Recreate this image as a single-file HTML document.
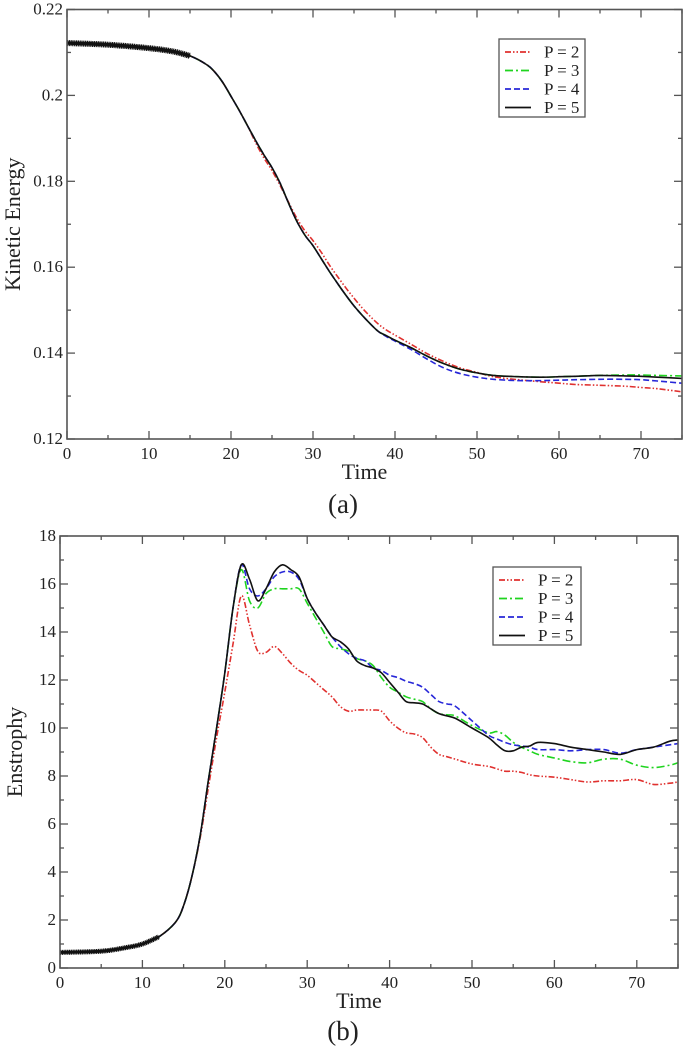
<!DOCTYPE html>
<html><head><meta charset="utf-8"><style>
html,body{margin:0;padding:0;background:#fff}
svg{display:block}
text{font-family:"Liberation Serif",serif;fill:#222}
</style></head><body>
<svg id="fig" width="685" height="1054" viewBox="0 0 685 1054" xmlns="http://www.w3.org/2000/svg"></svg>
<script>
// ---------- Panel (a): Kinetic energy ----------
const keTime = [0,5,10,13,15,17,18,19,20,21,22,23,24,25,26,27,28,29,30,31,32,33,34,35,36,37,38,39,40,42,44,46,48,50,52,55,58,60,62,65,68,70,72,75];
const keP5 = [.2122,.2118,.2110,.2102,.2092,.2072,.2055,.2030,.1998,.1965,.1930,.1895,.1862,.1832,.1795,.1750,.1708,.1675,.1650,.1620,.1590,.1562,.1535,.1510,.1488,.1468,.1450,.1440,.1430,.1412,.1392,.1375,.1362,.1354,.1348,.1345,.1344,.1345,.1346,.1348,.1347,.1346,.1344,.1341];
const keP2 = [.2122,.2118,.2110,.2102,.2092,.2072,.2055,.2030,.1998,.1965,.1930,.1890,.1855,.1825,.1790,.1752,.1715,.1685,.1662,.1635,.1605,.1578,.1552,.1528,.1505,.1485,.1467,.1453,.1442,.1420,.1398,.1380,.1365,.1355,.1345,.1338,.1333,.1330,.1327,.1325,.1323,.1320,.1317,.1310];
const keP3 = [.2122,.2118,.2110,.2102,.2092,.2072,.2055,.2030,.1998,.1965,.1930,.1895,.1862,.1832,.1795,.1750,.1708,.1675,.1650,.1620,.1590,.1562,.1535,.1510,.1488,.1468,.1450,.1440,.1430,.1412,.1392,.1375,.1362,.1354,.1348,.1345,.1344,.1345,.1346,.1348,.1349,.1349,.1348,.1347];
const keP4 = [.2122,.2118,.2110,.2102,.2092,.2072,.2055,.2030,.1998,.1965,.1930,.1895,.1862,.1832,.1795,.1750,.1708,.1675,.1650,.1620,.1590,.1562,.1535,.1510,.1488,.1468,.1450,.1438,.1428,.1408,.1385,.1365,.1352,.1344,.1339,.1336,.1336,.1337,.1338,.1339,.1339,.1338,.1335,.1330];
const keYTicks = ["0.12","0.14","0.16","0.18","0.2","0.22"];
const keYTickVals = [0.12,0.14,0.16,0.18,0.20,0.22];

// ---------- Panel (b): Enstrophy ----------
const enTime = [0,5,8,10,12,14,15,16,17,18,19,20,21,22,23,24,25,26,27,28,29,30,31,32,33,34,35,36,37,38,39,40,41,42,43,44,45,46,47,48,50,52,53,54,55,56,57,58,60,62,64,66,68,70,72,74,75];
const enP5 = [0.65,0.7,0.85,1.0,1.3,1.9,2.6,3.8,5.5,7.8,10,12.3,15,16.8,16.2,15.3,15.8,16.5,16.8,16.6,16.3,15.4,14.8,14.3,13.8,13.6,13.3,12.8,12.6,12.5,12.3,11.9,11.5,11.1,11.05,11.0,10.8,10.6,10.5,10.4,10.0,9.6,9.3,9.05,9.05,9.2,9.25,9.4,9.35,9.2,9.1,9.0,8.9,9.1,9.2,9.45,9.5];
const enP4 = [0.65,0.7,0.85,1.0,1.3,1.9,2.6,3.8,5.5,7.8,10,12.3,15,16.8,15.8,15.5,15.8,16.3,16.5,16.5,16.2,15.4,14.8,14.3,13.8,13.4,13.1,12.9,12.8,12.5,12.4,12.2,12.1,11.95,11.85,11.7,11.4,11.1,11.0,10.9,10.3,9.7,9.55,9.4,9.3,9.25,9.2,9.1,9.1,9.05,9.1,9.1,8.95,9.1,9.2,9.3,9.35];
const enP3 = [0.65,0.7,0.85,1.0,1.3,1.9,2.6,3.8,5.5,7.8,10,12.3,15,16.6,15.3,15.0,15.6,15.8,15.8,15.8,15.8,15.2,14.6,14.0,13.4,13.3,13.2,12.9,12.8,12.6,12.1,11.7,11.5,11.3,11.2,11.1,10.8,10.6,10.55,10.5,10.1,9.8,9.85,9.7,9.4,9.2,9.05,8.9,8.75,8.6,8.55,8.7,8.7,8.45,8.35,8.45,8.55];
const enP2 = [0.65,0.7,0.85,1.0,1.3,1.9,2.6,3.8,5.4,7.5,9.6,11.5,13.5,15.5,14.3,13.2,13.15,13.4,13.1,12.7,12.4,12.2,11.9,11.6,11.3,10.9,10.7,10.75,10.75,10.75,10.7,10.3,10.0,9.8,9.75,9.6,9.2,8.9,8.8,8.7,8.5,8.4,8.3,8.2,8.2,8.15,8.05,8.0,7.95,7.85,7.75,7.8,7.8,7.85,7.65,7.7,7.75];
const enYTicks = ["0","2","4","6","8","10","12","14","16","18"];
const enYTickVals = [0,2,4,6,8,10,12,14,16,18];

const xTicks = ["0","10","20","30","40","50","60","70"];
const xTickVals = [0,10,20,30,40,50,60,70];
const legendLabels = ["P = 2","P = 3","P = 4","P = 5"];

const NS = "http://www.w3.org/2000/svg";
const svg = document.getElementById('fig');
function mk(tag, attrs, parent){const e=document.createElementNS(NS,tag);for(const k in attrs)e.setAttribute(k,attrs[k]);(parent||svg).appendChild(e);return e;}

const styles = [
  {color:"#e0312f", dash:"6,2,1.5,2,1.5,2"},
  {color:"#1fd41f", dash:"8,3,2,3"},
  {color:"#2727d8", dash:"6,3"},
  {color:"#111111", dash:""}
];

function smoothPath(pts){
  let d = 'M'+pts[0][0].toFixed(1)+','+pts[0][1].toFixed(1);
  for(let i=0;i<pts.length-1;i++){
    const p0=pts[Math.max(0,i-1)],p1=pts[i],p2=pts[i+1],p3=pts[Math.min(pts.length-1,i+2)];
    const c1=[p1[0]+(p2[0]-p0[0])/6, p1[1]+(p2[1]-p0[1])/6];
    const c2=[p2[0]-(p3[0]-p1[0])/6, p2[1]-(p3[1]-p1[1])/6];
    d+='C'+c1[0].toFixed(1)+','+c1[1].toFixed(1)+' '+c2[0].toFixed(1)+','+c2[1].toFixed(1)+' '+p2[0].toFixed(1)+','+p2[1].toFixed(1);
  }
  return d;
}

function panel(cfg){
  const g = mk('g',{});
  
  
  const {L,R,T,B,xmin,xmax,ymin,ymax} = cfg;
  const sx = v => L + (v-xmin)/(xmax-xmin)*(R-L);
  const sy = v => B - (v-ymin)/(ymax-ymin)*(B-T);
  const sg = mk('g',{},g);
  
  
  cfg.series.forEach((s,i)=>{
    const pts = s.map((v,j)=>[sx(cfg.time[j]),sy(v)]);
    const p = mk('path',{d:smoothPath(pts),fill:'none',stroke:styles[i].color,'stroke-width':1.6,'stroke-dasharray':styles[i].dash,'stroke-linejoin':'round'},sg);
    
    
  });
  // early-time oscillation band (thick overlay of P=5 up to t=cutoff)
  const s5 = cfg.series[3];
  const early = [];
  s5.forEach((v,j)=>{ if(cfg.time[j]<=cfg.bandEnd) early.push([sx(cfg.time[j]),sy(v)]); });
  const band = mk('path',{d:smoothPath(early),fill:'none',stroke:'#111','stroke-width':cfg.bandW,'stroke-linecap':'butt','stroke-dasharray':'1.2,0.6'},sg);
  
  
  const band2 = mk('path',{d:smoothPath(early),fill:'none',stroke:'#111','stroke-width':cfg.bandW*0.6},sg);
  
  
  // frame
  const fr = mk('rect',{x:L,y:T,width:R-L,height:B-T,fill:'none',stroke:'#555','stroke-width':1.6},g);
  
  
  const tk = mk('g',{stroke:'#555','stroke-width':1.3},g);
  
  
  for(let v=xmin; v<=xmax; v+=5){
    const major = (v%10===0); const len = major?8:4; const x=sx(v);
    mk('line',{x1:x,y1:B,x2:x,y2:B-len},tk); mk('line',{x1:x,y1:T,x2:x,y2:T+len},tk);
  }
  for(let k=0;k<cfg.yVals.length;k++){
    const v=cfg.yVals[k]; const y=sy(v);
    mk('line',{x1:L,y1:y,x2:L+8,y2:y},tk); mk('line',{x1:R,y1:y,x2:R-8,y2:y},tk);
    if(k<cfg.yVals.length-1){const ym=sy((v+cfg.yVals[k+1])/2);
      mk('line',{x1:L,y1:ym,x2:L+4,y2:ym},tk); mk('line',{x1:R,y1:ym,x2:R-4,y2:ym},tk);}
  }
  xTickVals.forEach((v,i)=>{
    const t = mk('text',{x:sx(v),y:B+20,'font-size':17,'text-anchor':'middle'},g);
    t.textContent = xTicks[i];
    
    
  });
  cfg.yVals.forEach((v,i)=>{
    const t = mk('text',{x:L-4,y:sy(v)+5,'font-size':17,'text-anchor':'end'},g);
    t.textContent = cfg.yLabels[i];
    
    
  });
  const xt = mk('text',{x:(L+R)/2-10,y:B+40,'font-size':22,'text-anchor':'middle'},g);
  xt.textContent='Time';
  
  
  const yt = mk('text',{x:0,y:0,'font-size':22,'text-anchor':'middle',transform:`translate(${cfg.yTitleX},${(T+B)/2}) rotate(-90)`},g);
  yt.textContent=cfg.yTitle;
  
  
  const cap = mk('text',{x:343,y:cfg.capY,'font-size':27,'text-anchor':'middle'},g);
  cap.textContent=cfg.caption;
  
  
  const lg = mk('g',{},g);
  
  
  const lgx=cfg.legX, lgy=cfg.legY;
  mk('rect',{x:lgx,y:lgy,width:cfg.legW,height:cfg.legH,fill:'#fff',stroke:'#555','stroke-width':1.3},lg);
  legendLabels.forEach((lab,i)=>{
    const y = lgy+13+i*18.5;
    const e = mk('g',{},lg);
    
    
    mk('line',{x1:lgx+6,y1:y,x2:lgx+32,y2:y,stroke:styles[i].color,'stroke-width':1.8,'stroke-dasharray':styles[i].dash},e);
    const t=mk('text',{x:lgx+45,y:y+5.5,'font-size':17},e);
    t.textContent=lab;
  });
}

panel({name:'kinetic-energy-chart',L:67,R:682,T:9.5,B:439,xmin:0,xmax:75,ymin:0.12,ymax:0.22,
  time:keTime,series:[keP2,keP3,keP4,keP5],yVals:keYTickVals,yLabels:keYTicks,yTitle:'Kinetic Energy',yTitleX:20,
  caption:'(a)',capY:513,legX:499,legY:39,legW:86,legH:78,bandEnd:15,bandW:6});
panel({name:'enstrophy-chart',L:60,R:678,T:536,B:968,xmin:0,xmax:75,ymin:0,ymax:18,
  time:enTime,series:[enP2,enP3,enP4,enP5],yVals:enYTickVals,yLabels:enYTicks,yTitle:'Enstrophy',yTitleX:22,
  caption:'(b)',capY:1040,legX:493,legY:567,legW:88,legH:78,bandEnd:12,bandW:5});
</script>
</body></html>
